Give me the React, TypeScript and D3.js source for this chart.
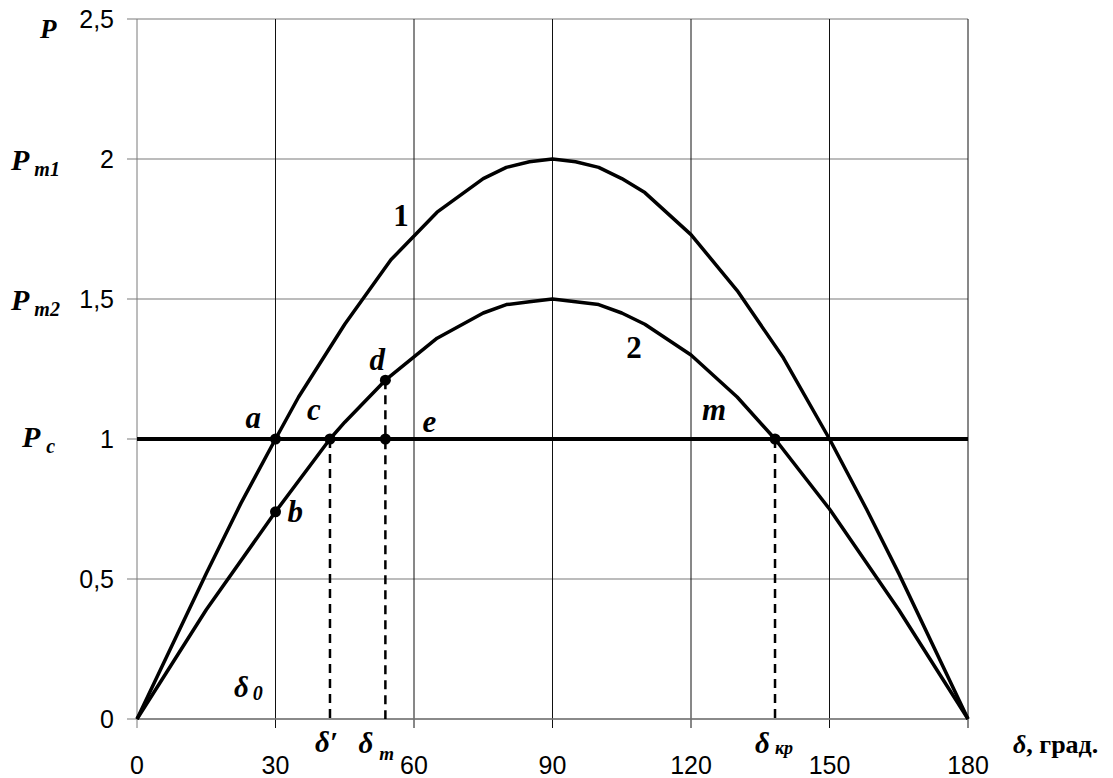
import React from 'react';
import * as d3 from 'd3';

// curve 1: P = Pm1 * sin(delta)
const delta1 = [0, 15, 22.5, 30, 35, 45, 55, 65, 75, 80, 85, 90, 95, 100, 105, 110, 120, 130, 140, 150, 158, 165, 180];
const power1 = [0, 0.52, 0.77, 1.0, 1.15, 1.41, 1.64, 1.81, 1.93, 1.97, 1.99, 2.0, 1.99, 1.97, 1.93, 1.88, 1.73, 1.53, 1.29, 1.0, 0.75, 0.52, 0];

// curve 2: P = Pm2 * sin(delta)
const delta2 = [0, 15, 30, 41.8, 45, 53.8, 65, 75, 80, 85, 90, 95, 100, 105, 110, 120, 130, 138.2, 150, 165, 180];
const power2 = [0, 0.39, 0.74, 1.0, 1.06, 1.21, 1.36, 1.45, 1.48, 1.49, 1.5, 1.49, 1.48, 1.45, 1.41, 1.3, 1.15, 1.0, 0.75, 0.39, 0];

const pc = 1;

const xTicks = [0, 30, 60, 90, 120, 150, 180];
const yTicks = [0, 0.5, 1, 1.5, 2, 2.5];
const yTickLabels = ['0', '0,5', '1', '1,5', '2', '2,5'];

// marked points
const pointNames = ['a', 'b', 'c', 'd', 'e', 'm'];
const pointDelta = [30, 30, 41.8, 53.8, 53.8, 138.2];
const pointPower = [1, 0.74, 1, 1.21, 1, 1];

// dashed drop lines (delta', delta_m, delta_kr)
const dropDelta = [41.8, 53.8, 138.2];
const dropTop = [1, 1.21, 1];

const W = 1113;
const H = 778;
const margin = { top: 19, right: 145, bottom: 59, left: 137 };

const serif = '"Liberation Serif", "Times New Roman", serif';
const sans = '"Liberation Sans", Arial, sans-serif';

export default function App() {
    const x = d3.scaleLinear().domain([0, 180]).range([margin.left, W - margin.right]);
    const y = d3.scaleLinear().domain([0, 2.5]).range([H - margin.bottom, margin.top]);

    const line = d3.line<[number, number]>()
        .x(d => x(d[0]))
        .y(d => y(d[1]));

    const path1 = line(delta1.map((d, i) => [d, power1[i]]));
    const path2 = line(delta2.map((d, i) => [d, power2[i]]));

    const lbl = { fontFamily: serif, fontWeight: 'bold', fontStyle: 'italic', fill: '#000' } as const;

    return (
        <svg width={W} height={H} style={{ position: 'absolute', left: 0, top: 0, background: '#fff' }}>
            {/* horizontal grid */}
            {yTicks.map(t => (
                <line key={'h' + t} x1={x(0) - 10} x2={x(180)} y1={y(t)} y2={y(t)} stroke="#7a7a7a" strokeWidth={1.2} />
            ))}
            {/* vertical grid */}
            {xTicks.map(t => (
                <line key={'v' + t} x1={x(t)} x2={x(t)} y1={y(2.5)} y2={y(0) + 9}
                      stroke={t === 0 ? '#7a7a7a' : '#111'} strokeWidth={1} />
            ))}
            <line x1={x(0)} x2={x(180)} y1={y(0)} y2={y(0)} stroke="#7a7a7a" strokeWidth={1.5} />

            {/* y tick labels */}
            {yTicks.map((t, i) => (
                <text key={'yl' + t} x={x(0) - 23} y={y(t)} dy="0.35em" textAnchor="end"
                      fontFamily={sans} fontSize={25}>{yTickLabels[i]}</text>
            ))}
            {/* x tick labels */}
            {xTicks.map(t => (
                <text key={'xl' + t} x={x(t)} y={y(0) + 55} textAnchor="middle"
                      fontFamily={sans} fontSize={25}>{t}</text>
            ))}

            {/* Pc line */}
            <line x1={x(0)} x2={x(180)} y1={y(pc)} y2={y(pc)} stroke="#000" strokeWidth={4} />

            {/* dashed drops */}
            {dropDelta.map((d, i) => (
                <line key={'dr' + i} x1={x(d)} x2={x(d)} y1={y(dropTop[i])} y2={y(0)}
                      stroke="#000" strokeWidth={2.5} strokeDasharray="9,6" />
            ))}

            {/* curves */}
            <path d={path1 || ''} fill="none" stroke="#000" strokeWidth={3.5} strokeLinejoin="round" />
            <path d={path2 || ''} fill="none" stroke="#000" strokeWidth={3.5} strokeLinejoin="round" />

            {/* points */}
            {pointNames.map((n, i) => (
                <circle key={n} cx={x(pointDelta[i])} cy={y(pointPower[i])} r={5.5} fill="#000" />
            ))}

            {/* point labels */}
            <text {...lbl} fontSize={31} x={x(30) - 30} y={y(1) - 11}>a</text>
            <text {...lbl} fontSize={31} x={x(30) + 12} y={y(0.74) + 10}>b</text>
            <text {...lbl} fontSize={31} x={x(41.8) - 23} y={y(1) - 19}>c</text>
            <text {...lbl} fontSize={31} x={x(53.8) - 16} y={y(1.21) - 10}>d</text>
            <text {...lbl} fontSize={31} x={x(53.8) + 37} y={y(1) - 7}>e</text>
            <text {...lbl} fontSize={31} x={x(138.2) - 73} y={y(1) - 19}>m</text>
            <text {...lbl} fontStyle="normal" fontSize={31} x={x(55.5)} y={y(1.76)}>1</text>
            <text {...lbl} fontStyle="normal" fontSize={31} x={x(106)} y={y(1.29)}>2</text>

            {/* delta 0 */}
            <text {...lbl} fontSize={29} x={x(21)} y={y(0.08)}>
                δ<tspan fontSize={20} dx={4} dy={3}>0</tspan>
            </text>

            {/* y axis names */}
            <text {...lbl} fontSize={27} x={40} y={38}>P</text>
            <text {...lbl} fontSize={30} x={11} y={y(2) + 11}>
                P<tspan fontSize={20} dx={5} dy={6}>m1</tspan>
            </text>
            <text {...lbl} fontSize={30} x={11} y={y(1.5) + 11}>
                P<tspan fontSize={20} dx={5} dy={6}>m2</tspan>
            </text>
            <text {...lbl} fontSize={30} x={22} y={y(1) + 8}>
                P<tspan fontSize={20} dx={6} dy={6}>c</tspan>
            </text>

            {/* x axis names */}
            <text {...lbl} fontSize={29} x={x(41.8) - 15} y={y(0) + 33}>δ′</text>
            <text {...lbl} fontSize={29} x={x(53.8) - 27} y={y(0) + 34}>
                δ<tspan fontSize={19} dx={6} dy={7}>m</tspan>
            </text>
            <text {...lbl} fontSize={29} x={x(138.2) - 20} y={y(0) + 34}>
                δ<tspan fontSize={18} dx={5} dy={1}>кр</tspan>
            </text>
            <text {...lbl} fontSize={26} x={1013} y={y(0) + 34}>
                δ<tspan fontStyle="normal">, град.</tspan>
            </text>
        </svg>
    );
}
